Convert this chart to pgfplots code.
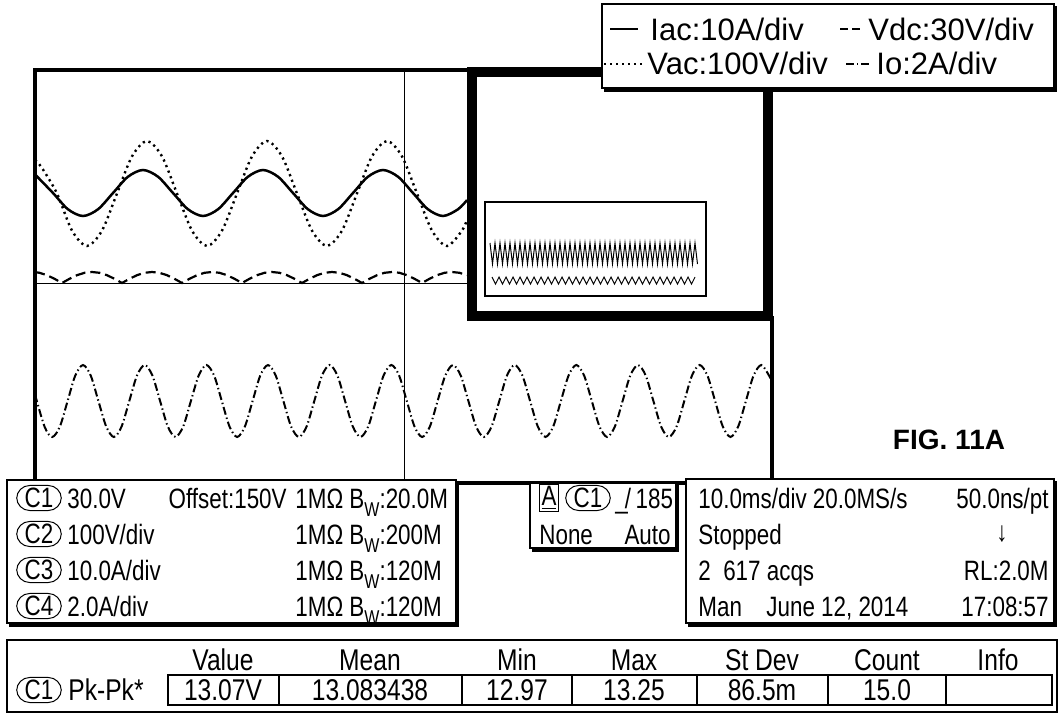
\documentclass[border=0pt]{standalone}
\usepackage{pgfplots}
\pgfplotsset{compat=1.18}
\usepackage{fontspec}
\setmainfont{Liberation Sans}[FakeStretch=0.8]
\newfontfamily\legfont{Liberation Sans}
\newfontfamily\tabfont{Liberation Sans}[FakeStretch=0.82]
\newfontfamily\figfont{Liberation Sans}
\newcommand\infofont{\fontsize{14pt}{16pt}\selectfont}
\newcommand\legf{\legfont\fontsize{15.5pt}{18pt}\selectfont}
\newcommand\tabf{\tabfont\fontsize{15pt}{17pt}\selectfont}
\newcommand\BW{B\raisebox{-4pt}{\fontsize{10pt}{10pt}\selectfont W}}
\tikzset{
  circ/.style={draw, line width=0.5pt, rounded corners=6.5pt, inner xsep=4pt, inner ysep=1.3pt, font=\infofont},
  tx/.style={anchor=base west, inner sep=0pt, font=\infofont},
  txr/.style={anchor=base east, inner sep=0pt, font=\infofont},
  tc/.style={anchor=base, inner sep=0pt, font=\tabf},
  lg/.style={anchor=base west, inner sep=0pt, font=\legf},
}
\begin{document}
\begin{tikzpicture}
\begin{axis}[width=531pt, height=364pt, scale only axis,
  xmin=0, xmax=1062, ymin=0, ymax=728, y dir=reverse,
  axis lines=none, clip=false]
\path (axis cs:0,0) rectangle (axis cs:1062,728);
% grid lines
\draw[line width=0.45pt] (axis cs:404,70) -- (axis cs:404,483);
\draw[line width=0.45pt] (axis cs:35,283) -- (axis cs:467,283);
% Iac (solid)
\addplot[black, line width=1.25pt, smooth] coordinates {
(35,174.4)(53,193)(68,209.3)(83,216)(98,209.3)(113,193)(128,176.7)(143,170)(158,176.7)(173,193)(188,209.3)(203,216)(218,209.3)(233,193)(248,176.7)(263,170)(278,176.7)(293,193)(308,209.3)(323,216)(338,209.3)(353,193)(368,176.7)(383,170)(398,176.7)(413,193)(428,209.3)(443,216)(458,209.3)(467,200.1)};
% Vac (dotted)
\addplot[black, line width=1.2pt, smooth, dash pattern=on 1.1pt off 1.9pt] coordinates {
(35,160)(42,168)(57,193.5)(72,230.6)(87,246)(102,230.6)(117,193.5)(132,156.4)(147,141)(162,156.4)(177,193.5)(192,230.6)(207,246)(222,230.6)(237,193.5)(252,156.4)(267,141)(282,156.4)(297,193.5)(312,230.6)(327,246)(342,230.6)(357,193.5)(372,156.4)(387,141)(402,156.4)(417,193.5)(432,230.6)(447,246)(462,230.6)(467,219.7)};
% Vdc (dashed)
\addplot[black, line width=1.1pt, dash pattern=on 5pt off 2.5pt] coordinates {
(35,272.1)(39.5,272.8)(47,275.2)(54.5,278.8)(62,283)(69.5,278.8)(77,275.2)(84.5,272.8)(92,272)(99.5,272.8)(107,275.2)(114.5,278.8)(122,283)(129.5,278.8)(137,275.2)(144.5,272.8)(152,272)(159.5,272.8)(167,275.2)(174.5,278.8)(182,283)(189.5,278.8)(197,275.2)(204.5,272.8)(212,272)(219.5,272.8)(227,275.2)(234.5,278.8)(242,283)(249.5,278.8)(257,275.2)(264.5,272.8)(272,272)(279.5,272.8)(287,275.2)(294.5,278.8)(302,283)(309.5,278.8)(317,275.2)(324.5,272.8)(332,272)(339.5,272.8)(347,275.2)(354.5,278.8)(362,283)(369.5,278.8)(377,275.2)(384.5,272.8)(392,272)(399.5,272.8)(407,275.2)(414.5,278.8)(422,283)(429.5,278.8)(437,275.2)(444.5,272.8)(452,272)(459.5,272.8)(467,275.2)};
% Io (dash dot)
\addplot[black, line width=1pt, smooth, dash pattern=on 4pt off 1.5pt on 0.7pt off 1.5pt] coordinates {
(35,394.4)(44.5,426.5)(52.2,437)(59.9,426.5)(67.6,401)(75.3,375.5)(83.0,365)(90.7,375.5)(98.4,401)(106.2,426.5)(113.9,437)(121.6,426.5)(129.3,401)(137.0,375.5)(144.7,365)(152.4,375.5)(160.1,401)(167.8,426.5)(175.5,437)(183.2,426.5)(190.9,401)(198.7,375.5)(206.4,365)(214.1,375.5)(221.8,401)(229.5,426.5)(237.2,437)(244.9,426.5)(252.6,401)(260.3,375.5)(268.0,365)(275.7,375.5)(283.4,401)(291.1,426.5)(298.9,437)(306.6,426.5)(314.3,401)(322.0,375.5)(329.7,365)(337.4,375.5)(345.1,401)(352.8,426.5)(360.5,437)(368.2,426.5)(375.9,401)(383.6,375.5)(391.4,365)(399.1,375.5)(406.8,401)(414.5,426.5)(422.2,437)(429.9,426.5)(437.6,401)(445.3,375.5)(453.0,365)(460.7,375.5)(468.4,401)(476.1,426.5)(483.8,437)(491.6,426.5)(499.3,401)(507.0,375.5)(514.7,365)(522.4,375.5)(530.1,401)(537.8,426.5)(545.5,437)(553.2,426.5)(560.9,401)(568.6,375.5)(576.3,365)(584.1,375.5)(591.8,401)(599.5,426.5)(607.2,437)(614.9,426.5)(622.6,401)(630.3,375.5)(638.0,365)(645.7,375.5)(653.4,401)(661.1,426.5)(668.8,437)(676.6,426.5)(684.3,401)(692.0,375.5)(699.7,365)(707.4,375.5)(715.1,401)(722.8,426.5)(730.5,437)(738.2,426.5)(745.9,401)(753.6,375.5)(761.3,365)(769.0,375.5)(771,380)};
% main frame
\draw[line width=2.2pt] (axis cs:467,70) -- (axis cs:35,70) -- (axis cs:35,483) -- (axis cs:772,483) -- (axis cs:772,316);
% inset box
\draw[line width=5pt, fill=white] (axis cs:472,72) rectangle (axis cs:767.5,315.5);
\draw[line width=0.8pt] (axis cs:485,202) rectangle (axis cs:706,296);
\addplot[black, line width=0.5pt] coordinates {
(490,243)(492.5,264)(495,243)(497.5,264)(500,243)(502.5,264)(505,243)(507.5,264)(510,243)(512.5,264)(515,243)(517.5,264)(520,243)(522.5,264)(525,243)(527.5,264)(530,243)(532.5,264)(535,243)(537.5,264)(540,243)(542.5,264)(545,243)(547.5,264)(550,243)(552.5,264)(555,243)(557.5,264)(560,243)(562.5,264)(565,243)(567.5,264)(570,243)(572.5,264)(575,243)(577.5,264)(580,243)(582.5,264)(585,243)(587.5,264)(590,243)(592.5,264)(595,243)(597.5,264)(600,243)(602.5,264)(605,243)(607.5,264)(610,243)(612.5,264)(615,243)(617.5,264)(620,243)(622.5,264)(625,243)(627.5,264)(630,243)(632.5,264)(635,243)(637.5,264)(640,243)(642.5,264)(645,243)(647.5,264)(650,243)(652.5,264)(655,243)(657.5,264)(660,243)(662.5,264)(665,243)(667.5,264)(670,243)(672.5,264)(675,243)(677.5,264)(680,243)(682.5,264)(685,243)(687.5,264)(690,243)(692.5,264)(695,243)(697.5,264)};
\addplot[black, line width=0.45pt] coordinates {
(492,277)(495.5,284)(499,277)(502.5,284)(506,277)(509.5,284)(513,277)(516.5,284)(520,277)(523.5,284)(527,277)(530.5,284)(534,277)(537.5,284)(541,277)(544.5,284)(548,277)(551.5,284)(555,277)(558.5,284)(562,277)(565.5,284)(569,277)(572.5,284)(576,277)(579.5,284)(583,277)(586.5,284)(590,277)(593.5,284)(597,277)(600.5,284)(604,277)(607.5,284)(611,277)(614.5,284)(618,277)(621.5,284)(625,277)(628.5,284)(632,277)(635.5,284)(639,277)(642.5,284)(646,277)(649.5,284)(653,277)(656.5,284)(660,277)(663.5,284)(667,277)(670.5,284)(674,277)(677.5,284)(681,277)(684.5,284)(688,277)(691.5,284)(695,277)};
% legend box
\draw[line width=0.6pt, fill=white] (axis cs:602,4) rectangle (axis cs:1054,88);
\draw[line width=1.8pt] (axis cs:1055.5,6) -- (axis cs:1055.5,90) -- (axis cs:604,90);
\draw[line width=1.2pt] (axis cs:610,29) -- (axis cs:638,29);
\node[lg] at (axis cs:650,40) {Iac:10A/div};
\draw[line width=1.1pt, dash pattern=on 4pt off 2pt] (axis cs:840,29) -- (axis cs:864,29);
\node[lg] at (axis cs:868,40) {Vdc:30V/div};
\draw[line width=1.1pt, dash pattern=on 1.1pt off 1.9pt] (axis cs:604,64) -- (axis cs:644,64);
\node[lg] at (axis cs:647,75) {Vac:100V/div};
\draw[line width=1pt, dash pattern=on 4pt off 1.5pt on 0.7pt off 1.5pt] (axis cs:846,64) -- (axis cs:872,64);
\node[lg] at (axis cs:876,75) {Io:2A/div};
% FIG label
\node[anchor=center, inner sep=0pt, font=\figfont\bfseries\fontsize{14pt}{16pt}\selectfont] at (axis cs:949,440) {FIG. 11A};
% left info box
\draw[line width=0.6pt, fill=white] (axis cs:7,480) rectangle (axis cs:456,623);
\draw[line width=1.8pt] (axis cs:457.5,482) -- (axis cs:457.5,625) -- (axis cs:9,625);
\node[circ] at (axis cs:39,498) {C1};
\node[circ] at (axis cs:39,534) {C2};
\node[circ] at (axis cs:39,570) {C3};
\node[circ] at (axis cs:39,606) {C4};
\node[tx] at (axis cs:67,508) {30.0V};
\node[txr] at (axis cs:287,508) {Offset:150V};
\node[tx] at (axis cs:67,544) {100V/div};
\node[tx] at (axis cs:67,580) {10.0A/div};
\node[tx] at (axis cs:67,616) {2.0A/div};
\node[tx] at (axis cs:295,508) {1MΩ \BW:20.0M};
\node[tx] at (axis cs:295,544) {1MΩ \BW:200M};
\node[tx] at (axis cs:295,580) {1MΩ \BW:120M};
\node[tx] at (axis cs:295,616) {1MΩ \BW:120M};
% trigger box
\draw[line width=0.6pt, fill=white] (axis cs:530,483) rectangle (axis cs:676,548);
\draw[line width=1.8pt] (axis cs:677.5,485) -- (axis cs:677.5,550) -- (axis cs:532,550);
\node[draw, line width=0.5pt, inner xsep=1pt, inner ysep=1pt, font=\infofont] at (axis cs:549,498) {\underline{A}};
\node[circ] at (axis cs:588,498) {C1};
\node[tx] at (axis cs:615,508) {\_\kern-1.5pt/\,185};
\node[tx] at (axis cs:539,544) {None};
\node[txr] at (axis cs:671,544) {Auto};
% right info box
\draw[line width=0.6pt, fill=white] (axis cs:686,479) rectangle (axis cs:1054,623);
\draw[line width=1.8pt] (axis cs:1055.5,481) -- (axis cs:1055.5,625) -- (axis cs:688,625);
\node[tx] at (axis cs:698,508) {10.0ms/div 20.0MS/s};
\node[txr] at (axis cs:1049,508) {50.0ns/pt};
\node[tx] at (axis cs:698,544) {Stopped};
\node[anchor=center, inner sep=0pt, font=\infofont\bfseries] at (axis cs:1002,534) {↓};
\node[tx] at (axis cs:698,580) {2\ \ 617 acqs};
\node[txr] at (axis cs:1049,580) {RL:2.0M};
\node[tx] at (axis cs:698,616) {Man};
\node[tx] at (axis cs:766,616) {June 12, 2014};
\node[txr] at (axis cs:1049,616) {17:08:57};
% measurement table
\draw[line width=0.6pt] (axis cs:7,640) rectangle (axis cs:1057,712);
\draw[line width=0.6pt] (axis cs:168,675) rectangle (axis cs:1052,705);
\draw[line width=0.6pt] (axis cs:279,675) -- (axis cs:279,705);
\draw[line width=0.6pt] (axis cs:462,675) -- (axis cs:462,705);
\draw[line width=0.6pt] (axis cs:572,675) -- (axis cs:572,705);
\draw[line width=0.6pt] (axis cs:697,675) -- (axis cs:697,705);
\draw[line width=0.6pt] (axis cs:828,675) -- (axis cs:828,705);
\draw[line width=0.6pt] (axis cs:946,675) -- (axis cs:946,705);
\node[tc] at (axis cs:223,670) {Value};
\node[tc] at (axis cs:370,670) {Mean};
\node[tc] at (axis cs:517,670) {Min};
\node[tc] at (axis cs:634,670) {Max};
\node[tc] at (axis cs:762,670) {St Dev};
\node[tc] at (axis cs:887,670) {Count};
\node[tc] at (axis cs:998,670) {Info};
\node[circ] at (axis cs:39,690) {C1};
\node[anchor=base west, inner sep=0pt, font=\tabf] at (axis cs:68,700) {Pk-Pk*};
\node[tc] at (axis cs:223,700) {13.07V};
\node[tc] at (axis cs:370,700) {13.083438};
\node[tc] at (axis cs:517,700) {12.97};
\node[tc] at (axis cs:634,700) {13.25};
\node[tc] at (axis cs:762,700) {86.5m};
\node[tc] at (axis cs:887,700) {15.0};
\end{axis}
\end{tikzpicture}
\end{document}
